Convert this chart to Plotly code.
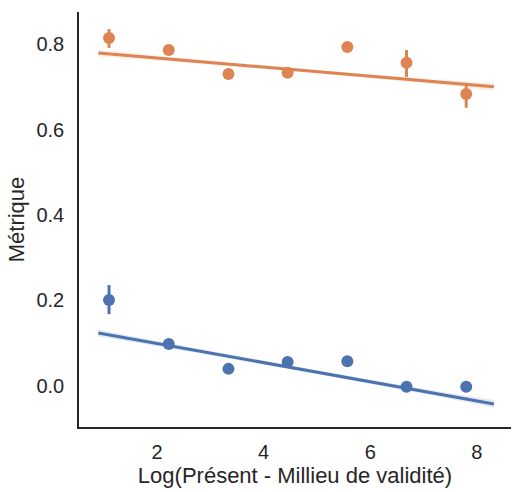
import plotly.graph_objects as go

# Data
x_points = [1.10, 2.22, 3.34, 4.45, 5.57, 6.68, 7.80]
orange_y = [0.814, 0.786, 0.730, 0.733, 0.793, 0.756, 0.683]
orange_hi = [0.835, 0.790, 0.733, 0.737, 0.797, 0.786, 0.709]
orange_lo = [0.791, 0.782, 0.727, 0.729, 0.789, 0.723, 0.651]
blue_y = [0.201, 0.098, 0.040, 0.056, 0.058, -0.002, -0.002]
blue_hi = [0.236, 0.102, 0.044, 0.060, 0.063, 0.002, 0.002]
blue_lo = [0.168, 0.094, 0.036, 0.052, 0.053, -0.006, -0.006]

fit_x = [0.90, 2.0, 4.6, 7.2, 8.32]
orange_fit = [0.779, 0.7673, 0.7396, 0.7119, 0.700]
orange_band = [0.008, 0.006, 0.004, 0.006, 0.009]
blue_fit = [0.124, 0.0994, 0.0412, -0.0170, -0.042]
blue_band = [0.008, 0.006, 0.004, 0.006, 0.009]

ORANGE = "#dd8452"
BLUE = "#4c72b0"

fig = go.Figure()

def add_series(y, hi, lo, fit, band, color, fill):
    fig.add_trace(go.Scatter(
        x=fit_x + fit_x[::-1],
        y=[f + b for f, b in zip(fit, band)] + [f - b for f, b in zip(fit, band)][::-1],
        fill="toself", fillcolor=fill, line=dict(width=0), mode="lines",
        hoverinfo="skip", showlegend=False))
    fig.add_trace(go.Scatter(
        x=fit_x, y=fit, mode="lines", line=dict(color=color, width=3),
        showlegend=False))
    fig.add_trace(go.Scatter(
        x=x_points, y=y, mode="markers",
        marker=dict(color=color, size=12),
        error_y=dict(type="data", symmetric=False,
                     array=[h - v for h, v in zip(hi, y)],
                     arrayminus=[v - l for v, l in zip(y, lo)],
                     color=color, thickness=3, width=0),
        showlegend=False))

add_series(orange_y, orange_hi, orange_lo, orange_fit, orange_band, ORANGE, "rgba(221,132,82,0.15)")
add_series(blue_y, blue_hi, blue_lo, blue_fit, blue_band, BLUE, "rgba(76,114,176,0.15)")

fig.update_layout(
    width=513, height=492,
    margin=dict(l=79, r=2, t=12, b=65),
    plot_bgcolor="white", paper_bgcolor="white",
    font=dict(family="Liberation Sans, Arial, sans-serif", size=20, color="#262626"),
    xaxis=dict(
        range=[0.537, 8.64], tickvals=[2, 4, 6, 8], ticktext=["2", "4", "6", "8"],
        showgrid=False, zeroline=False, showline=True, linecolor="#262626", linewidth=1.5,
        ticks="", ticklen=0, tickfont=dict(size=20), ticklabelstandoff=6,
        title=dict(text="Log(Présent - Millieu de validité)", font=dict(size=22), standoff=0),
    ),
    yaxis=dict(
        range=[-0.096, 0.875], tickvals=[0.0, 0.2, 0.4, 0.6, 0.8],
        ticktext=["0.0", "0.2", "0.4", "0.6", "0.8"],
        showgrid=False, zeroline=False, showline=True, linecolor="#262626", linewidth=1.5,
        ticks="", ticklen=0, tickfont=dict(size=20), ticklabelstandoff=9,
        title=dict(text="Métrique", font=dict(size=22), standoff=6),
    ),
)

fig.write_html("out.html")
